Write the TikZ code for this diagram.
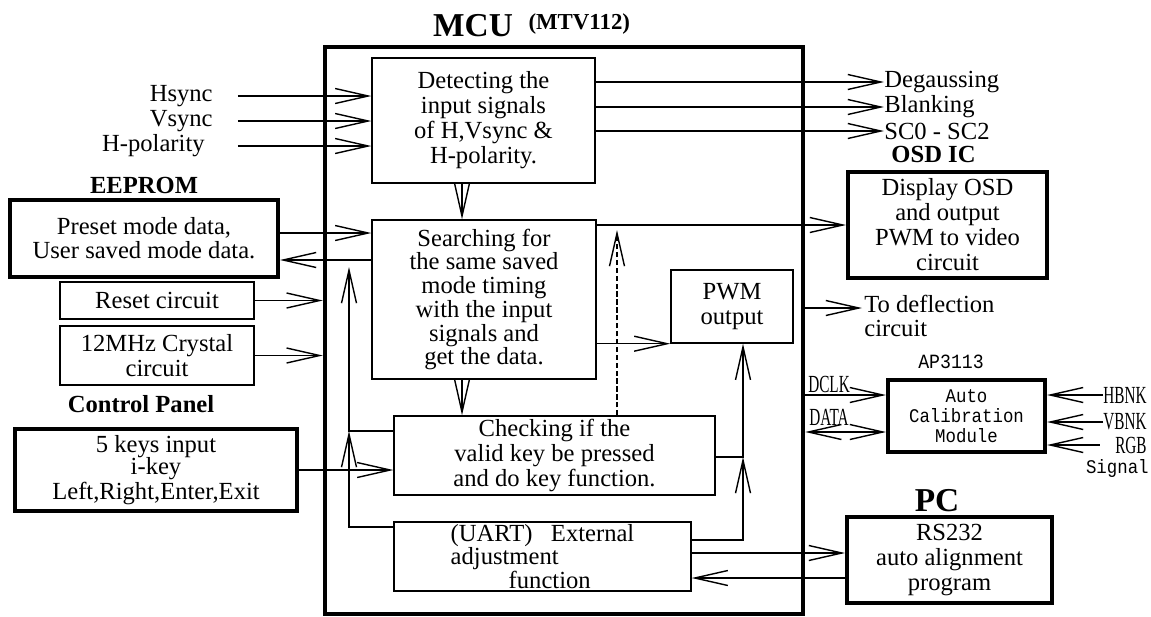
\documentclass[tikz,border=0pt]{standalone}
\usepackage{fontspec}
\setmainfont{Liberation Serif}
\newfontfamily\apfont[FakeStretch=0.9]{Liberation Mono}
\newfontfamily\sigfont[FakeStretch=0.62]{Liberation Serif}
\usetikzlibrary{positioning}
\usetikzlibrary{arrows.meta}
\tikzset{
    myblock/.style = {rectangle, draw=black, line width=0.8pt, align=center, inner sep=0.5pt},
    myblockt/.style = {myblock, line width=2.3pt},
    mcublock/.style = {rectangle, draw=black, line width=2.6pt},
    mytitle/.style = {inner sep=0pt, font=\fontsize{14}{14}\selectfont\bfseries},
    mylabel/.style = {inner sep=0pt, align=left},
    siglabel/.style = {inner sep=0pt, font=\sigfont\fontsize{14}{14}\selectfont},
    aplabel/.style = {inner sep=0pt, font=\apfont\fontsize{11}{11}\selectfont},
    edgea/.style = {-{Straight Barb[length=0.66cm,width=0.3cm]}, line width=0.8pt},
    edgeb/.style = {{Straight Barb[length=0.66cm,width=0.3cm]}-{Straight Barb[length=0.66cm,width=0.3cm]}, line width=0.8pt},
    edged/.style = {edgea, dash pattern=on 3pt off 1.5pt}, % back to search
}
\begin{document}
\begin{tikzpicture}[x=0.02cm, y=-0.02cm, font=\fontsize{14}{14.2}\selectfont]
  \useasboundingbox (0,0) rectangle (1151,616);
  % MCU
  \node[mcublock, minimum width=9.56cm, minimum height=11.34cm] (mcu) at (564,330.5) {};
  \node[mytitle, font=\fontsize{19}{19}\selectfont\bfseries] (mcut) at (473,26) {MCU};
  \node[mytitle, font=\fontsize{13}{13}\selectfont\bfseries, right=0.3cm of mcut, yshift=0.04cm] (mtv) {(MTV112)};
  \node[myblock, minimum width=4.46cm, minimum height=2.5cm] (detect) at (483.5,120.5)
    {Detecting the\\input signals\\of H,Vsync \&\\H-polarity.};
  \node[myblock, minimum width=4.48cm, minimum height=3.18cm, font=\fontsize{14}{13.5}\selectfont] (search) at (484,299.5)
    {Searching for\\the same saved\\mode timing\\with the input\\signals and\\get the data.};
  \node[myblock, minimum width=6.42cm, minimum height=1.58cm] (check) at (554.5,455.5)
    {Checking if the\\valid key be pressed\\and do key function.};
  \node[myblock, minimum width=5.94cm, minimum height=1.38cm, align=left, inner ysep=0pt, font=\fontsize{14}{13.4}\selectfont] (uart) at (542.5,556.5)
    {(UART)\hspace{0.75em}External\\adjustment\\\hspace*{2.36em}function};
  \node[myblock, minimum width=2.44cm, minimum height=1.46cm] (pwm) at (732,306.5) {PWM\\output};
  % left side
  \node[myblockt, minimum width=5.36cm, minimum height=1.54cm, font=\fontsize{14}{13.6}\selectfont] (eeprom) at (144,238.5)
    {Preset mode data,\\User saved mode data.};
  \node[mytitle, above=0.08cm of eeprom] (eepromt) {EEPROM};
  \node[myblock, minimum width=3.88cm, minimum height=0.74cm] (reset) at (157,300.5) {Reset circuit};
  \node[myblock, minimum width=3.88cm, minimum height=1.18cm] (crystal) at (157,355.5) {12MHz Crystal\\circuit};
  \node[myblockt, minimum width=5.64cm, minimum height=1.64cm, font=\fontsize{14}{12.8}\selectfont] (panel) at (156,470)
    {5 keys input\\i-key\\Left,Right,Enter,Exit};
  \node[mytitle, above=0.27cm of panel, xshift=-0.3cm] (panelt) {Control Panel};
  \node[mylabel, anchor=east] (hsync) at (213,96) {Hsync};
  \node[mylabel, anchor=east] (vsync) at (213,121) {Vsync};
  \node[mylabel, anchor=east] (hpol) at (205,146) {H-polarity};
  % right side
  \node[mylabel, anchor=west] (degauss) at (884,82) {Degaussing};
  \node[mylabel, anchor=west] (blank) at (884,107) {Blanking};
  \node[mylabel, anchor=west] (scout) at (884,131) {SC0 - SC2};
  \node[myblockt, minimum width=3.98cm, minimum height=2.12cm] (osd) at (947.5,225)
    {Display OSD\\and output\\PWM to video\\circuit};
  \node[mytitle, above=0.14cm of osd, xshift=-0.28cm] (osdt) {OSD IC};
  \coordinate (defl) at (862,308);
  \node[mylabel, anchor=west, font=\fontsize{14}{13.8}\selectfont] (deflect) at (864,316) {To deflection\\circuit};
  \node[myblockt, minimum width=3.14cm, minimum height=1.44cm, font=\apfont\fontsize{11}{11.5}\selectfont] (ap) at (966.5,416)
    {Auto\\Calibration\\Module};
  \node[aplabel, font=\apfont\fontsize{11.5}{11.5}\selectfont, above=0.18cm of ap, xshift=-0.31cm] (apt) {AP3113};
  \node[siglabel] (dclk) at (829,384) {DCLK};
  \node[siglabel] (data) at (829,417) {DATA};
  \node[siglabel, anchor=west] (hbnk) at (1103,395) {HBNK};
  \node[siglabel, anchor=west] (vbnk) at (1103,422) {VBNK};
  \node[siglabel, anchor=east] (rgb) at (1147,445) {RGB};
  \node[aplabel, anchor=east] (rgbs) at (1149,468) {Signal};
  \node[myblockt, minimum width=4.1cm, minimum height=1.72cm, font=\fontsize{14}{14.5}\selectfont] (pc) at (949.5,560)
    {RS232\\auto alignment\\program};
  \node[mytitle, font=\fontsize{19}{19}\selectfont\bfseries, above=0.06cm of pc, xshift=-0.25cm] (pct) {PC};

  % sync inputs and outputs
  \draw[edgea, shorten <=0.5cm] (hsync.east) -- (hsync.east -| detect.west);
  \draw[edgea, shorten <=0.5cm] (vsync.east) -- (vsync.east -| detect.west);
  \draw[edgea, shorten <=0.66cm] (hpol.east) -- (hpol.east -| detect.west);
  \draw[edgea] (detect.east |- degauss.west) -- (degauss.west);
  \draw[edgea] (detect.east |- blank.west) -- (blank.west);
  \draw[edgea] (detect.east |- scout.west) -- (scout.west);
  % inside the MCU
  \coordinate (d2s) at ([xshift=-0.43cm]detect.south);
  \draw[edgea] (d2s) -- (d2s |- search.north);
  \coordinate (s2c) at ([xshift=-0.44cm]search.south);
  \draw[edgea] (s2c) -- (s2c |- check.north);
  \coordinate (c2s) at ([xshift=1.25cm]check.north);
  \draw[edged, shorten >=0.1cm] (c2s) -- (c2s |- osd.west);
  \draw[edgea] (search.east |- osd.west) -- (osd.west);
  \draw[edgea] (search.east |- pwm.south west) -- (pwm.south west);
  % EEPROM, reset, crystal, keys
  \coordinate (eein) at ([yshift=0.11cm]eeprom.east);
  \coordinate (eeout) at ([yshift=-0.43cm]eeprom.east);
  \draw[edgea] (eein) -- (eein -| search.west);
  \draw[edgea] (eeout -| search.west) -- (eeout);
  \draw[edgea] (reset.east) -- (reset.east -| mcu.west);
  \draw[edgea] (crystal.east) -- (crystal.east -| mcu.west);
  \draw[edgea] (panel.east) -- (panel.east -| check.west);
  % left loop
  \coordinate (lj) at (349,431);
  \coordinate (uo) at ([yshift=0.59cm]uart.west);
  \draw[edgea] (uo) -| (lj);
  \draw[edgea, shorten >=0.14cm] (check.west |- lj) -- (lj) -- (lj |- eeout);
  % right loop
  \coordinate (rj) at (743,457);
  \coordinate (ur) at ([yshift=0.33cm]uart.east);
  \draw[edgea] (ur) -| (rj);
  \draw[edgea] (check.east |- rj) -- (rj) -- (rj |- pwm.south);
  % deflection
  \draw[edgea] (defl -| mcu.east) -- (defl);
  % AP3113
  \coordinate (apclk) at ([yshift=0.42cm]ap.west);
  \coordinate (apdat) at ([yshift=-0.32cm]ap.west);
  \draw[edgea] (apclk -| mcu.east) -- (apclk);
  \draw[edgeb] (apdat -| mcu.east) -- (apdat);
  \draw[edgea] (hbnk.west) -- (hbnk.west -| ap.east);
  \draw[edgea] (vbnk.west) -- (vbnk.west -| ap.east);
  \draw[edgea, shorten <=0.3cm] (rgb.west) -- (rgb.west -| ap.east);
  % PC
  \coordinate (u2p) at ([yshift=0.07cm]uart.east);
  \coordinate (p2u) at ([yshift=-0.36cm]pc.west);
  \draw[edgea] (u2p) -- (u2p -| pc.west);
  \draw[edgea] (p2u) -- (p2u -| uart.east);
\end{tikzpicture}
\end{document}
